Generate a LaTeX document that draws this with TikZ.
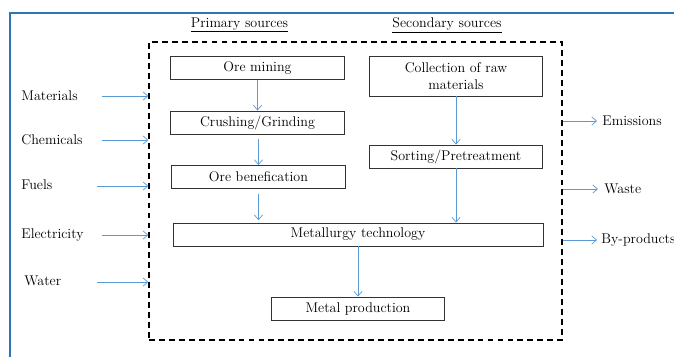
\documentclass[tikz,border=0pt]{standalone}
\usepackage{xcolor}
\usepackage{tikz}
\usetikzlibrary{arrows.meta, positioning, calc}
\definecolor{framecol}{RGB}{46,117,182}
\definecolor{flowcol}{RGB}{91,155,213}

\begin{document}
\begin{tikzpicture}[
    x=0.03cm, y=-0.03cm,
    every node/.style={font=\large, inner sep=1pt},
    stepbox/.style={draw=black!80, line width=0.8pt, minimum width=5.2cm, minimum height=0.69cm, align=center},
    flow/.style={draw=flowcol, semithick, -{Straight Barb[length=4pt, width=7pt]}}
]
    \useasboundingbox (0,0) rectangle (674,356);
    % outer frame
    \draw[framecol, line width=1.6pt] (10,360) |- (680,13);

    % titles
    \node (prim) at (239.5,25) {\underline{Primary sources}};
    \node (sec) at (447,25) {\underline{Secondary sources}};

    % system boundary
    \node[draw, line width=1.2pt, minimum width=12.39cm, minimum height=8.94cm,
          dash pattern=on 5pt off 3.5pt] (sys) at (355.5,191) {};

    % process steps
    \node[stepbox] (ore) at (257.5,68) {Ore mining};
    \node[stepbox] (crush) at (257.5,122.5) {Crushing/Grinding};
    \node[stepbox] (benef) at (258.5,177) {Ore benefication};
    \node[stepbox, minimum height=1.2cm] (collect) at (456,76) {Collection of raw\\materials};
    \node[stepbox] (sort) at (456,156.5) {Sorting/Pretreatment};
    \node[stepbox, minimum width=11.1cm] (mtech) at (358,234.5) {Metallurgy technology};
    \node[stepbox] (mprod) at (358,308.5) {Metal production};

    \draw[flow] (ore) -- (crush);
    \draw[flow, shorten <=4pt] (crush.south -| benef.south) -- (benef);
    \draw[flow, shorten <=4pt, shorten >=2pt] (benef.south) -- (benef.south |- mtech.north);
    \draw[flow] (collect) -- (sort);
    \draw[flow] (sort.south) -- (sort.south |- mtech.north);
    \draw[flow] (mtech) -- (mprod);

    % inputs
    \node[anchor=west] (mat) at (20,96) {Materials};
    \node[anchor=west] (chem) at (20,140) {Chemicals};
    \node[anchor=west] (fuel) at (20,185) {Fuels};
    \node[anchor=west] (elec) at (20,235) {Electricity};
    \node[anchor=west] (water) at (23,281) {Water};
    \coordinate (matA) at (102,96);
    \coordinate (chemA) at (102,140);
    \coordinate (fuelA) at (97,186);
    \coordinate (elecA) at (102,235);
    \coordinate (waterA) at (97,282);
    \draw[flow] (matA) -- (matA -| sys.west);
    \draw[flow] (chemA) -- (chemA -| sys.west);
    \draw[flow] (fuelA) -- (fuelA -| sys.west);
    \draw[flow] (elecA) -- (elecA -| sys.west);
    \draw[flow] (waterA) -- (waterA -| sys.west);

    % outputs
    \coordinate (emiA) at (597,121);
    \coordinate (wasteA) at (598,189);
    \coordinate (byA) at (597,240);
    \node[anchor=west] (emi) at (601,121) {Emissions};
    \node[anchor=west] (waste) at (603,189) {Waste};
    \node[anchor=west] (by) at (600,240) {By-products};
    \draw[flow] (emiA -| sys.east) -- (emiA);
    \draw[flow] (wasteA -| sys.east) -- (wasteA);
    \draw[flow] (byA -| sys.east) -- (byA);
\end{tikzpicture}
\end{document}
